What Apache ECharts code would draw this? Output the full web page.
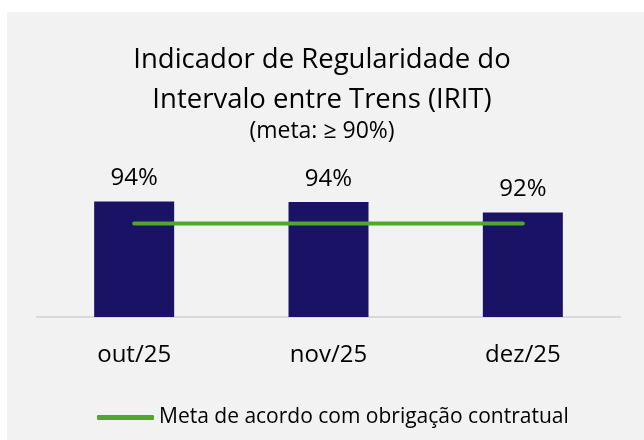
<!DOCTYPE html>
<html>
<head>
<meta charset="utf-8">
<script src="https://cdn.jsdelivr.net/npm/echarts@6/dist/echarts.min.js"></script>
<style>
  html, body { margin: 0; padding: 0; background: #ffffff; }
  #chart { width: 644px; height: 440px; }
</style>
</head>
<body>
<div id="chart"></div>
<script>
// data
const months = ["out/25", "nov/25", "dez/25"];
const irit = [94.2, 94.1, 92.1];
const irit_labels = ["94%", "94%", "92%"];
const meta = [90, 90, 90];

let font = "'Open Sans', 'Noto Sans', sans-serif";
let mychart = echarts.init(document.getElementById("chart"));

let option = {
  backgroundColor: "#ffffff",
  textStyle: { fontFamily: font },
  graphic: [
    {
      type: "rect",
      silent: true,
      z: -10,
      shape: { x: 7, y: 12, width: 637, height: 428 },
      style: { fill: "#f2f2f2" },
    },
  ],
  title: [
    {
      text: "Indicador de Regularidade do\nIntervalo entre Trens (IRIT)",
      left: "center",
      top: 35,
      textStyle: {
        fontFamily: font,
        fontSize: 27.5,
        fontWeight: "normal",
        color: "#000000",
        lineHeight: 40,
      },
    },
    {
      text: "(meta: ≥ 90%)",
      left: "center",
      top: 115,
      textStyle: {
        fontFamily: font,
        fontSize: 23,
        fontWeight: "normal",
        color: "#000000",
      },
    },
  ],
  legend: {
    left: 92,
    top: 402,
    data: [{ name: "Meta de acordo com obrigação contratual", icon: "roundRect" }],
    itemWidth: 57,
    itemHeight: 5,
    textStyle: { fontFamily: font, fontSize: 21, color: "#000000" },
  },
  grid: {
    left: 37,
    right: 24,
    top: 161,
    bottom: 123,
  },
  xAxis: {
    type: "category",
    data: months,
    axisLine: { lineStyle: { color: "#d9d9d9", width: 2 } },
    axisTick: { show: false },
    axisLabel: {
      margin: 26,
      fontFamily: font,
      fontSize: 24,
      color: "#000000",
    },
  },
  yAxis: {
    type: "value",
    min: 72,
    max: 102,
    show: false,
    splitLine: { show: false },
  },
  series: [
    {
      name: "IRIT",
      type: "bar",
      data: irit,
      barWidth: 80,
      itemStyle: { color: "#1a1265" },
      label: {
        show: true,
        position: "top",
        distance: 11,
        fontFamily: font,
        fontSize: 24,
        color: "#000000",
        formatter: (p) => irit_labels[p.dataIndex],
      },
    },
    {
      name: "Meta de acordo com obrigação contratual",
      type: "line",
      data: meta,
      symbol: "none",
      showSymbol: false,
      itemStyle: { color: "#4ea72e" },
      lineStyle: { color: "#4ea72e", width: 4, cap: "round" },
      z: 5,
    },
  ],
};
mychart.setOption(option);
</script>
</body>
</html>
